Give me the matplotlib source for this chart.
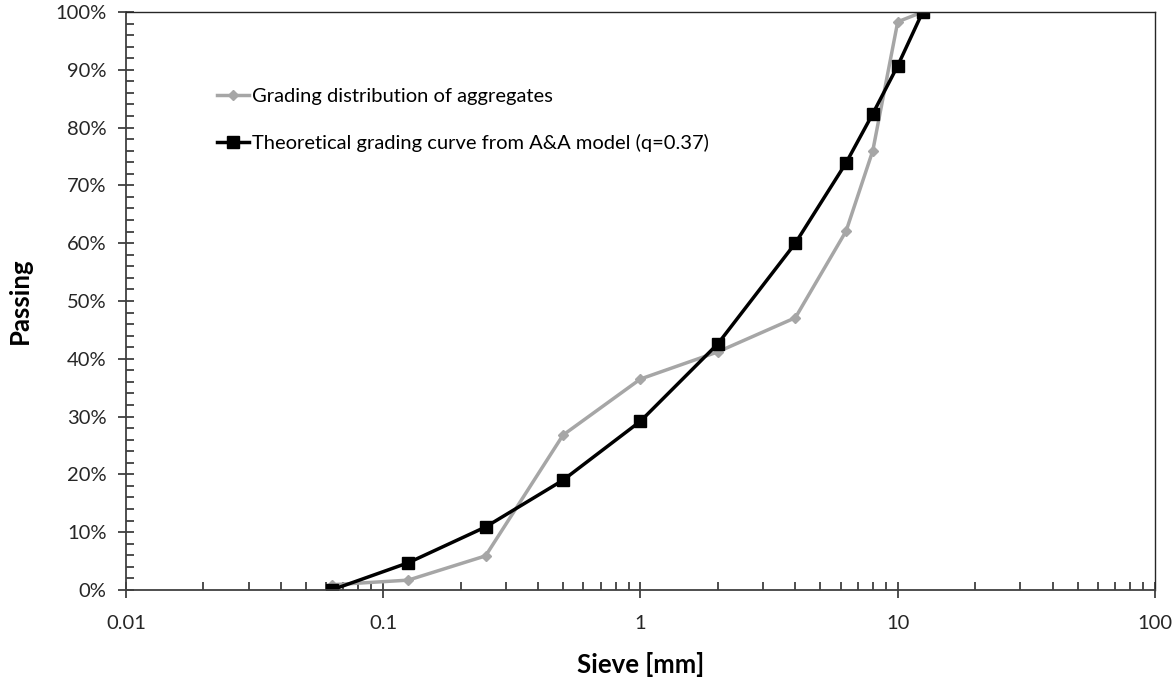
import matplotlib
matplotlib.use('Agg')
import matplotlib.pyplot as plt
from matplotlib.ticker import FixedLocator, FuncFormatter, LogLocator, MultipleLocator

plt.rcParams['font.family'] = ['Lato', 'DejaVu Sans']

# Data
sieve = [0.063, 0.125, 0.25, 0.5, 1, 2, 4, 6.3, 8, 10, 12.5]
grading = [0.9, 1.7, 5.9, 26.8, 36.5, 41.2, 47.1, 62.1, 76.0, 98.3, 100.0]
theory = [0.0, 4.7, 10.9, 19.0, 29.2, 42.6, 60.0, 73.9, 82.4, 90.7, 100.0]
xticks = [0.01, 0.1, 1, 10, 100]

fig = plt.figure(figsize=(11.74, 6.8), dpi=100)
ax = fig.add_axes([0.1073, 0.1324, 0.8765, 0.85])

ax.plot(sieve, grading, color='#a6a6a6', lw=2.5, marker='D', ms=5,
        label='Grading distribution of aggregates')
ax.plot(sieve, theory, color='black', lw=2.5, marker='s', ms=9,
        label='Theoretical grading curve from A&A model (q=0.37)')

ax.set_xscale('log')
ax.set_xlim(0.01, 100)
ax.set_ylim(0, 100)
ax.xaxis.set_major_locator(FixedLocator(xticks))
ax.xaxis.set_major_formatter(FuncFormatter(lambda v, p: '%g' % v))
ax.xaxis.set_minor_locator(LogLocator(base=10, subs=range(2, 10)))
ax.xaxis.set_minor_formatter(FuncFormatter(lambda v, p: ''))
ax.yaxis.set_major_locator(MultipleLocator(10))
ax.yaxis.set_minor_locator(MultipleLocator(2))
ax.yaxis.set_major_formatter(FuncFormatter(lambda v, p: '%d%%' % v))

ax.tick_params(which='major', direction='inout', length=12, width=1.3,
               color='#404040', labelsize=14.5, labelcolor='#262626', pad=8)
ax.tick_params(which='minor', direction='in', length=6, width=1.3, color='#404040')
ax.tick_params(axis='x', which='major', pad=12)
for s in ['left', 'bottom']:
    ax.spines[s].set_color('#404040')
    ax.spines[s].set_linewidth(1.3)
for s in ['top', 'right']:
    ax.spines[s].set_color('#262626')
    ax.spines[s].set_linewidth(1.0)

ax.set_xlabel('Sieve [mm]', fontsize=18.5, fontweight='bold')
ax.set_ylabel('Passing', fontsize=18.5, fontweight='bold')
ax.xaxis.set_label_coords(0.5, -0.107)
ax.yaxis.set_label_coords(-0.091, 0.5)

ax.legend(loc='upper left', bbox_to_anchor=(0.071, 0.90), frameon=False,
          fontsize=14.5, handlelength=1.6, handletextpad=0.15, labelspacing=1.45)

fig.savefig('out.png', dpi=100)
